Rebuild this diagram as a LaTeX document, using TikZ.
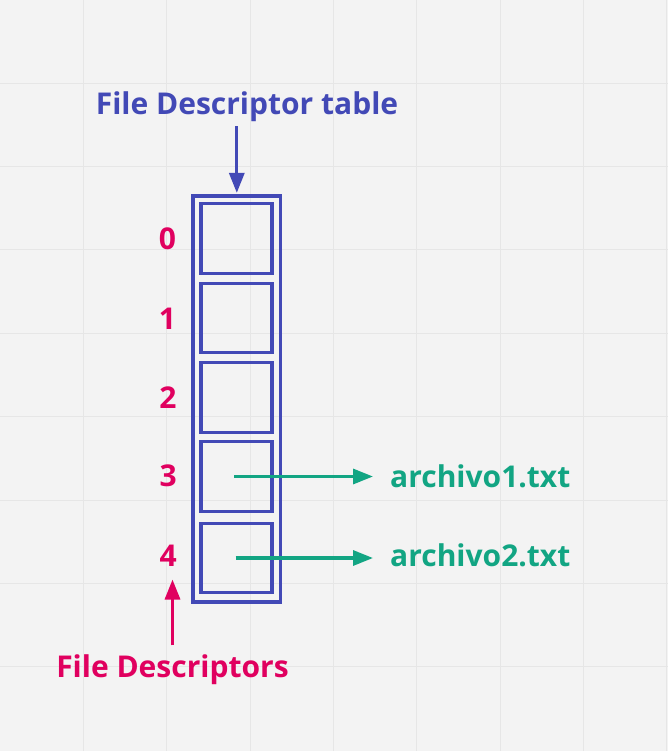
\documentclass[tikz,border=0pt]{standalone}
\usepackage{fontspec}
\setmainfont{Open Sans}
\usetikzlibrary{arrows.meta}
\definecolor{bgc}{HTML}{F3F3F3}
\definecolor{gridc}{HTML}{E6E6E6}
\definecolor{fdblue}{HTML}{4249B6}
\definecolor{fdpink}{HTML}{E0005F}
\definecolor{fdteal}{HTML}{12A583}
\tikzset{
  lbl/.style={inner sep=0pt, anchor=base, font=\fontsize{30}{36}\selectfont\bfseries},
  cell/.style={draw=fdblue, line width=3.2pt, minimum width=71pt, minimum height=69.5pt, inner sep=0pt},
  arr/.style={line width=3.2pt, -{Triangle[length=20pt,width=15pt]}},
}
\begin{document}
\begin{tikzpicture}[x=1pt,y=-1pt]
\fill[bgc] (0,0) rectangle (668,751);
\useasboundingbox (0,0) rectangle (668,751);
\foreach \k in {1,...,8} {
  \draw[gridc, line width=1pt] (\k*83.333,0) -- (\k*83.333,751);
  \draw[gridc, line width=1pt] (0,\k*83.333) -- (668,\k*83.333);
}
% table
\node[draw=fdblue, line width=3.2pt, minimum width=87.5pt, minimum height=406pt, inner sep=0pt] (tbl) at (236.8,399) {};
\node[cell] (b0) at (236.5,238.5) {};
\node[cell] (b1) at (236.5,318) {};
\node[cell] (b2) at (236.5,397.5) {};
\node[cell] (b3) at (236.5,476.5) {};
\node[cell] (b4) at (236.5,558) {};
% indices
\node[lbl, text=fdpink] (n0) at (167.5,249) {0};
\node[lbl, text=fdpink] (n1) at (167.5,329) {1};
\node[lbl, text=fdpink] (n2) at (168,408) {2};
\node[lbl, text=fdpink] (n3) at (168.3,486.7) {3};
\node[lbl, text=fdpink] (n4) at (168.3,566.7) {4};
% titles
\node[lbl, text=fdblue] (title) at (247,114.7) {File Descriptor table};
\node[lbl, text=fdpink] (fd) at (172.5,677.3) {File Descriptors};
\node[lbl, anchor=base west, text=fdteal] (f1) at (390,487.3) {archivo1.txt};
\node[lbl, anchor=base west, text=fdteal] (f2) at (390,566.7) {archivo2.txt};
% arrows
\draw[arr, fdblue] ([yshift=-4pt]title.south -| tbl.north) -- ([yshift=1.5pt]tbl.north);
\draw[arr, fdpink] ([yshift=9pt]fd.north) -- ([yshift=-12.6pt]fd.north |- n4.south);
\draw[arr, fdteal] ([xshift=-2.5pt]b3.center) -- ([xshift=-17pt]f1.west |- b3.center);
\draw[arr, fdteal] ([xshift=-1pt]b4.center) -- ([xshift=-17pt]f2.west |- b4.center);
\end{tikzpicture}
\end{document}
